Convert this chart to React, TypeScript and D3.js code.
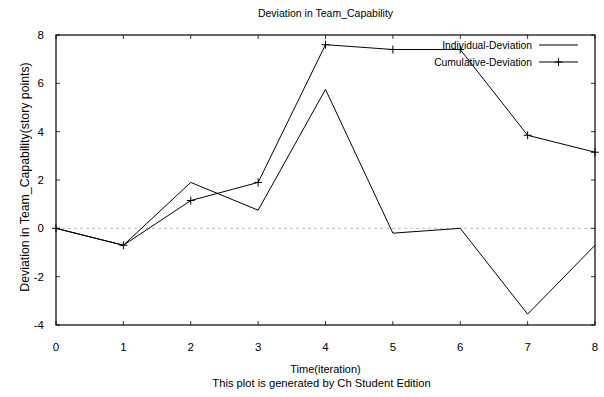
import React from 'react'
import * as d3 from 'd3'

const iterations = [0, 1, 2, 3, 4, 5, 6, 7, 8]
const individual = [0, -0.7, 1.9, 0.75, 5.75, -0.2, 0, -3.55, -0.7]
const cumulative = [0, -0.7, 1.15, 1.9, 7.6, 7.4, 7.4, 3.85, 3.15]
const xTicks = [0, 1, 2, 3, 4, 5, 6, 7, 8]
const yTicks = [-4, -2, 0, 2, 4, 6, 8]

const W = 604
const H = 397
const left = 56
const right = 595
const top = 35
const bottom = 325
const font = 'Liberation Sans, Arial, sans-serif'

export default function App() {
  const x = d3.scaleLinear().domain([0, 8]).range([left, right])
  const y = d3.scaleLinear().domain([-4, 8]).range([bottom, top])
  const cx = (left + right) / 2

  const line = d3.line<number>()
    .x((d, i) => x(iterations[i]))
    .y((d) => y(d))

  return (
    <svg width={W} height={H} style={{ position: 'absolute', left: 0, top: 0, background: '#fff' }}
      fontFamily={font} fontSize={11}>
      <rect x={0} y={0} width={W} height={H} fill="#fff" />
      <text x={cx} y={17} textAnchor="middle" fontSize={10.5}>Deviation in Team_Capability</text>

      {/* zero line */}
      <line x1={left} x2={right} y1={y(0)} y2={y(0)} stroke="#aaa" strokeDasharray="3,3" strokeWidth={0.8} />

      {/* ticks */}
      {xTicks.map((t) => (
        <g key={'x' + t}>
          <line x1={x(t)} x2={x(t)} y1={bottom} y2={bottom - 4} stroke="#000" strokeWidth={0.8} />
          <line x1={x(t)} x2={x(t)} y1={top} y2={top + 4} stroke="#000" strokeWidth={0.8} />
          <text x={x(t)} y={bottom + 26} textAnchor="middle" fontSize={11.5}>{t}</text>
        </g>
      ))}
      {yTicks.map((t) => (
        <g key={'y' + t}>
          <line x1={left} x2={left + 4} y1={y(t)} y2={y(t)} stroke="#000" strokeWidth={0.8} />
          <line x1={right} x2={right - 4} y1={y(t)} y2={y(t)} stroke="#000" strokeWidth={0.8} />
          <text x={left - 12} y={y(t) + 4} textAnchor="end" fontSize={11.5}>{t}</text>
        </g>
      ))}

      <rect x={left} y={top} width={right - left} height={bottom - top} fill="none" stroke="#000" strokeWidth={1.2} />

      <path d={line(individual) || ''} fill="none" stroke="#000" strokeWidth={1} />
      <path d={line(cumulative) || ''} fill="none" stroke="#000" strokeWidth={1} />
      {cumulative.map((v, i) => (
        <path key={'c' + i} d={`M${x(iterations[i]) - 4},${y(v)}h8M${x(iterations[i])},${y(v) - 4}v8`}
          stroke="#000" strokeWidth={1} />
      ))}

      {/* legend */}
      <text x={532} y={49} textAnchor="end" fontSize={10.3}>Individual-Deviation</text>
      <line x1={539} x2={578} y1={45} y2={45} stroke="#000" strokeWidth={1} />
      <text x={532} y={66} textAnchor="end" fontSize={10.3}>Cumulative-Deviation</text>
      <line x1={539} x2={578} y1={62} y2={62} stroke="#000" strokeWidth={1} />
      <path d="M558.5,58v8M554.5,62h8" stroke="#000" strokeWidth={1} />

      <text transform={`translate(29,${(top + bottom) / 2 - 3}) rotate(-90)`} textAnchor="middle" fontSize={12.3}>
        Deviation in Team_Capability(story points)
      </text>
      <text x={cx} y={373} textAnchor="middle">Time(iteration)</text>
      <text x={cx - 4} y={387} textAnchor="middle" fontSize={11.2}>This plot is generated by Ch Student Edition</text>
    </svg>
  )
}
